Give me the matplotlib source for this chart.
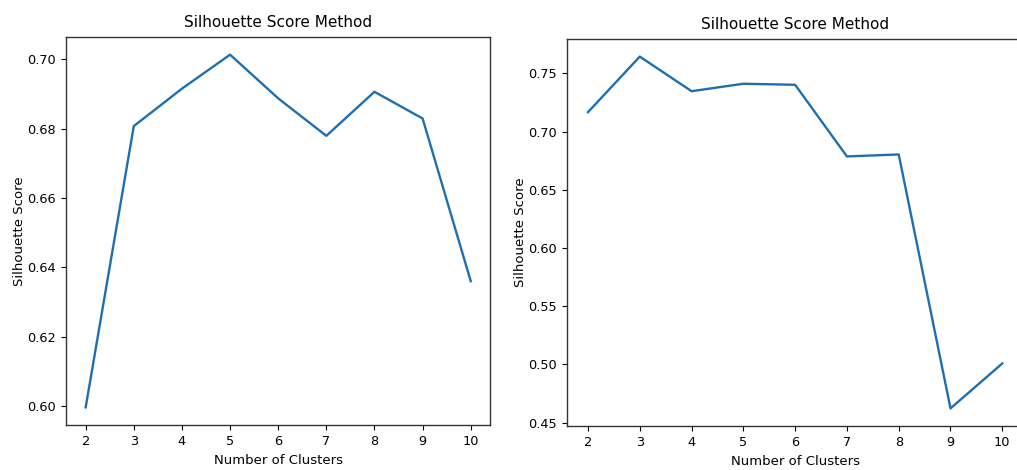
#importing libraries
import matplotlib
matplotlib.use('Agg')
from matplotlib import pyplot as plt

# cluster counts and silhouette scores
clusters = [2, 3, 4, 5, 6, 7, 8, 9, 10]
scores_left = [0.5996, 0.6807, 0.6915, 0.7013, 0.6887, 0.6779, 0.6906, 0.6829, 0.6360]
scores_right = [0.7166, 0.7643, 0.7346, 0.7410, 0.7401, 0.6786, 0.6803, 0.4623, 0.5009]

title = 'Silhouette Score Method'
xlabel = 'Number of Clusters'
ylabel = 'Silhouette Score'

fig = plt.figure(figsize=(10.17, 4.7), dpi=100)

ax1 = fig.add_axes([0.0653, 0.0957, 0.4165, 0.8255])
ax2 = fig.add_axes([0.5578, 0.0936, 0.4481, 0.8234])   #right panel is cut off at the edge

for ax, scores in ((ax1, scores_left), (ax2, scores_right)):
    ax.plot(clusters, scores, color='#1f6fb0', linewidth=1.7)
    ax.set_title(title, fontsize=11, pad=7)
    ax.set_xlabel(xlabel, fontsize=9.5, labelpad=4)
    ax.set_ylabel(ylabel, fontsize=9.5, labelpad=1)
    ax.tick_params(axis='both', labelsize=9.3, pad=4)
    ax.set_xticks(clusters)
    for s in ax.spines.values():
        s.set_color('#333333')
        s.set_linewidth(1.0)

fig.savefig('out.png', dpi=100)
